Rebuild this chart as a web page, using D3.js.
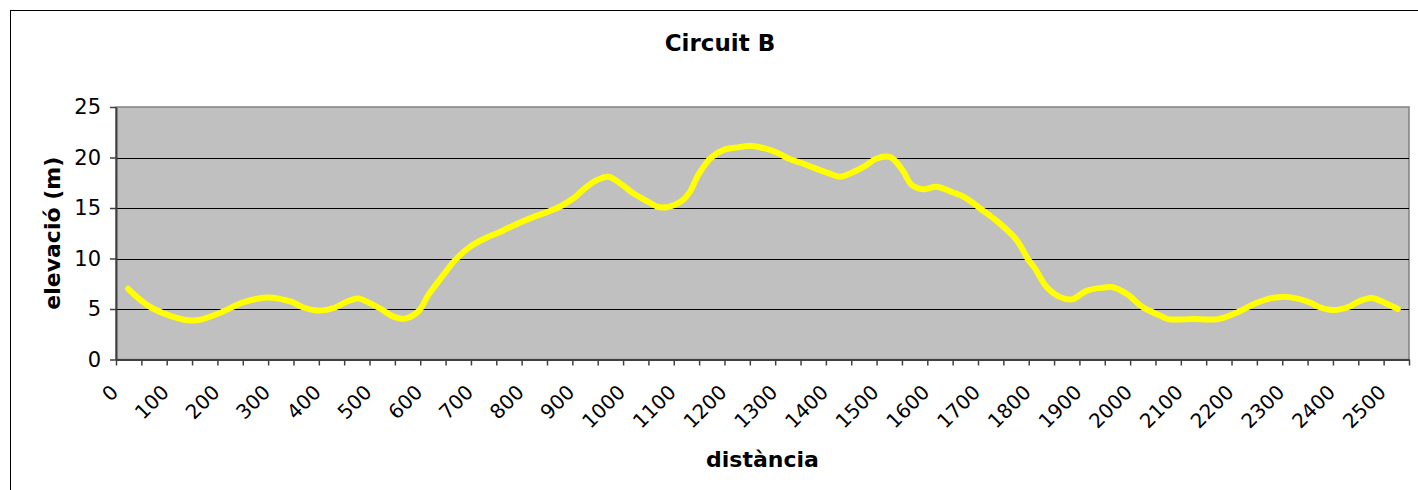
<!DOCTYPE html>
<html>
<head>
<meta charset="utf-8">
<script src="https://cdn.jsdelivr.net/npm/d3@7"></script>
<style>
  body { margin: 0; background: #fff; }
  svg { display: block; font-family: 'DejaVu Sans', Verdana, sans-serif; }
</style>
</head>
<body>
<svg id="chart"></svg>
<script>
// perfil del circuit: distància (m) i elevació (m), llegits del gràfic
const distances = [24, 71, 150, 202, 248, 298, 347, 367, 399, 432, 452, 477, 498, 521, 547, 570, 597, 616, 643, 669,
  698, 728, 754, 781, 820, 853, 876, 906, 922, 948, 971, 998, 1020, 1050, 1070, 1089, 1116, 1132, 1148, 1175,
  1201, 1227, 1254, 1280, 1303, 1326, 1352, 1378, 1405, 1428, 1451, 1477, 1500, 1526, 1536, 1553, 1569, 1592, 1618, 1648,
  1674, 1707, 1740, 1776, 1799, 1812, 1835, 1861, 1885, 1914, 1944, 1966, 1996, 2023, 2059, 2075, 2124, 2173, 2206, 2249,
  2276, 2298, 2328, 2357, 2370, 2400, 2433, 2449, 2476, 2505, 2528]
const elevations = [7.0, 5.1, 3.85, 4.55, 5.6, 6.15, 5.7, 5.2, 4.85, 5.15, 5.65, 6.05, 5.65, 5.05, 4.25, 4.05, 4.8, 6.4, 8.2, 9.85,
  11.15, 12.0, 12.55, 13.2, 14.05, 14.65, 15.15, 16.1, 16.85, 17.75, 18.1, 17.3, 16.45, 15.6, 15.1, 15.1, 15.7, 16.6, 18.25, 20.05,
  20.8, 21.0, 21.15, 20.9, 20.5, 19.9, 19.45, 18.95, 18.45, 18.1, 18.5, 19.15, 19.9, 20.05, 19.7, 18.6, 17.3, 16.85, 17.1, 16.6,
  16.05, 14.85, 13.6, 11.85, 9.9, 9.05, 7.2, 6.2, 5.95, 6.8, 7.1, 7.15, 6.4, 5.25, 4.35, 4.0, 4.0, 4.0, 4.55, 5.6,
  6.05, 6.2, 6.05, 5.6, 5.25, 4.9, 5.25, 5.7, 6.1, 5.55, 5.0]
const yTicks = [0, 5, 10, 15, 20, 25]
const xLabels = [0, 100, 200, 300, 400, 500, 600, 700, 800, 900, 1000, 1100, 1200, 1300,
  1400, 1500, 1600, 1700, 1800, 1900, 2000, 2100, 2200, 2300, 2400, 2500]
const title = 'Circuit B'
const xTitle = 'distància'
const yTitle = 'elevació (m)'

const width = 1418
const height = 490
const plot = { left: 116, right: 1409, top: 107, bottom: 359.5 }

const svg = d3.select('#chart')
  .attr('width', width)
  .attr('height', height)

// marc exterior
svg.append('rect')
  .attr('x', 10.5).attr('y', 10.5)
  .attr('width', 1440).attr('height', 520)
  .attr('fill', '#fff')
  .attr('stroke', '#000')

const x = d3.scaleLinear().domain([0, 2550]).range([plot.left, plot.right])
const y = d3.scaleLinear().domain([0, 25]).range([plot.bottom, plot.top])

// fons de l'àrea de traçat
svg.append('rect')
  .attr('x', plot.left).attr('y', plot.top)
  .attr('width', plot.right - plot.left).attr('height', plot.bottom - plot.top)
  .attr('fill', '#c0c0c0')
  .attr('stroke', '#808080')
  .attr('stroke-width', 1.5)

// línies de quadrícula
svg.append('g')
  .selectAll('line')
  .data(yTicks.filter(d => d > 0 && d < 25))
  .join('line')
  .attr('x1', plot.left).attr('x2', plot.right)
  .attr('y1', d => Math.round(y(d)) + 0.5).attr('y2', d => Math.round(y(d)) + 0.5)
  .attr('stroke', '#000')
  .attr('stroke-width', 1)

// eix Y
svg.append('g')
  .attr('transform', `translate(${plot.left},0)`)
  .call(d3.axisLeft(y).tickValues(yTicks).tickSize(6).tickSizeOuter(0).tickPadding(9))
  .call(g => g.select('.domain').attr('stroke', '#404040').attr('stroke-width', 2))
  .call(g => g.selectAll('.tick line').attr('stroke', '#404040').attr('stroke-width', 1.5))
  .call(g => g.selectAll('.tick text')
    .attr('font-size', 21)
    .attr('font-family', "'DejaVu Sans', Verdana, sans-serif")
    .attr('fill', '#000'))

// eix X: marques cada 50 m, etiquetes cada 100 m
svg.append('g')
  .attr('transform', `translate(0,${plot.bottom})`)
  .call(d3.axisBottom(x)
    .tickValues(d3.range(0, 2551, 50))
    .tickSize(6)
    .tickSizeOuter(0)
    .tickFormat(d => (xLabels.includes(d) ? d : '')))
  .call(g => g.select('.domain').attr('stroke', '#404040').attr('stroke-width', 2))
  .call(g => g.selectAll('.tick line').attr('stroke', '#404040').attr('stroke-width', 1.5))
  .call(g => g.selectAll('.tick text')
    .attr('font-size', 20)
    .attr('font-family', "'DejaVu Sans', Verdana, sans-serif")
    .attr('fill', '#000')
    .attr('x', 0).attr('y', 0).attr('dy', 0)
    .attr('text-anchor', 'end')
    .attr('transform', 'translate(3,34) rotate(-45)'))

// perfil
const line = d3.line()
  .x((d, i) => x(distances[i]))
  .y(d => y(d))
  .curve(d3.curveCatmullRom.alpha(0.5))

svg.append('path')
  .datum(elevations)
  .attr('d', line)
  .attr('fill', 'none')
  .attr('stroke', '#ffff00')
  .attr('stroke-width', 6)
  .attr('stroke-linecap', 'round')
  .attr('stroke-linejoin', 'round')

// títols
svg.append('text')
  .attr('x', 720).attr('y', 50.5)
  .attr('text-anchor', 'middle')
  .attr('font-size', 23).attr('font-weight', 'bold')
  .text(title)

svg.append('text')
  .attr('x', (plot.left + plot.right) / 2).attr('y', 467)
  .attr('text-anchor', 'middle')
  .attr('font-size', 22).attr('font-weight', 'bold')
  .text(xTitle)

svg.append('text')
  .attr('transform', `translate(60,${(plot.top + plot.bottom) / 2}) rotate(-90)`)
  .attr('text-anchor', 'middle')
  .attr('font-size', 22).attr('font-weight', 'bold')
  .text(yTitle)
</script>
</body>
</html>
